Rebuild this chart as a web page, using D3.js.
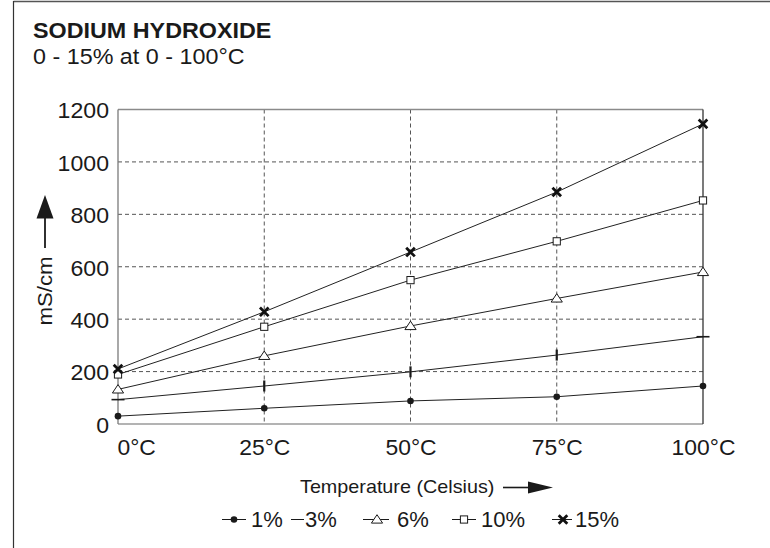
<!DOCTYPE html>
<html>
<head>
<meta charset="utf-8">
<script src="https://cdn.jsdelivr.net/npm/d3@7"></script>
<style>
  body { margin: 0; background: #fff; }
  svg { display: block; font-family: "Liberation Sans", Arial, Helvetica, sans-serif; }
</style>
</head>
<body>
<svg id="chart" width="770" height="548"></svg>
<script>
// Conductivity of sodium hydroxide solutions (mS/cm) vs temperature
const temps = [0, 25, 50, 75, 100];
const tempLabels = ["0°C", "25°C", "50°C", "75°C", "100°C"];
const yTicks = [0, 200, 400, 600, 800, 1000, 1200];
const seriesNames = ["1%", "3%", "6%", "10%", "15%"];
const naoh1 = [30, 60, 88, 104, 145];
const naoh3 = [93, 145, 199, 263, 333];
const naoh6 = [132, 260, 374, 479, 580];
const naoh10 = [189, 371, 549, 697, 853];
const naoh15 = [210, 428, 656, 885, 1145];
const markerTypes = ["dot", "bar", "triangle", "square", "cross"];

const series = [naoh1, naoh3, naoh6, naoh10, naoh15].map((vals, i) => ({
  name: seriesNames[i],
  marker: markerTypes[i],
  points: vals.map((v, j) => ({ t: temps[j], v }))
}));

const svg = d3.select("#chart");
const ink = "#1a1a1a";
const W = 770, H = 548;
const plot = { left: 118, right: 703, top: 109.5, bottom: 424 };

const x = d3.scaleLinear().domain([0, 100]).range([plot.left, plot.right]);
const y = d3.scaleLinear().domain([0, 1200]).range([plot.bottom, plot.top]);

// Text in this sheet is set slightly wide
function widen(sel, k) {
  sel.each(function () {
    const len = this.getComputedTextLength();
    d3.select(this).attr("textLength", len * k).attr("lengthAdjust", "spacingAndGlyphs");
  });
}

// Page frame
svg.append("line").attr("x1", 13.5).attr("x2", W).attr("y1", 1.5).attr("y2", 1.5)
  .attr("stroke", "#555").attr("stroke-width", 1.5);
svg.append("line").attr("x1", 13.5).attr("x2", 13.5).attr("y1", 1).attr("y2", H)
  .attr("stroke", "#333").attr("stroke-width", 1.2);

// Title block
const title = svg.append("text").attr("x", 33).attr("y", 38)
  .attr("font-size", 22).attr("font-weight", "bold").attr("fill", ink)
  .text("SODIUM HYDROXIDE");
widen(title, 1.06);
const subtitle = svg.append("text").attr("x", 33).attr("y", 64)
  .attr("font-size", 22).attr("fill", ink)
  .text("0 - 15% at 0 - 100°C");
widen(subtitle, 1.06);

// Grid
const grid = svg.append("g").attr("stroke", "#555").attr("stroke-width", 1)
  .attr("stroke-dasharray", "4,3").attr("fill", "none");
grid.selectAll("line.h").data(yTicks.filter(d => d > 0 && d < 1200)).join("line")
  .attr("class", "h")
  .attr("x1", plot.left).attr("x2", plot.right)
  .attr("y1", d => y(d)).attr("y2", d => y(d));
grid.selectAll("line.v").data(temps.filter(d => d > 0 && d < 100)).join("line")
  .attr("class", "v")
  .attr("x1", d => x(d)).attr("x2", d => x(d))
  .attr("y1", plot.top).attr("y2", plot.bottom);

// Plot frame
svg.append("line").attr("x1", plot.left).attr("x2", plot.right).attr("y1", plot.top).attr("y2", plot.top)
  .attr("stroke", "#8a8a8a").attr("stroke-width", 1.3);
svg.append("line").attr("x1", plot.left).attr("x2", plot.right).attr("y1", plot.bottom).attr("y2", plot.bottom)
  .attr("stroke", "#9a9a9a").attr("stroke-width", 1.6);
svg.append("line").attr("x1", plot.left).attr("x2", plot.left).attr("y1", plot.top).attr("y2", plot.bottom)
  .attr("stroke", "#7a7a7a").attr("stroke-width", 1.3);
svg.append("line").attr("x1", plot.right).attr("x2", plot.right).attr("y1", plot.top).attr("y2", plot.bottom)
  .attr("stroke", "#333").attr("stroke-width", 1.3);

// Axes (labels only)
const yAxis = svg.append("g").attr("transform", `translate(${plot.left},0)`)
  .call(d3.axisLeft(y).tickValues(yTicks).tickSize(0).tickPadding(9).tickFormat(d3.format("d")));
yAxis.select(".domain").remove();
yAxis.selectAll("text").attr("font-size", 22).attr("fill", ink)
  .attr("font-family", "Liberation Sans, Arial, sans-serif").attr("dy", "0.38em");
widen(yAxis.selectAll("text"), 1.05);

const xAxis = svg.append("g").attr("transform", `translate(0,${plot.bottom})`)
  .call(d3.axisBottom(x).tickValues(temps).tickSize(0).tickPadding(15).tickFormat((d, i) => tempLabels[i]));
xAxis.select(".domain").remove();
xAxis.selectAll("text").attr("font-size", 22).attr("fill", ink)
  .attr("font-family", "Liberation Sans, Arial, sans-serif");
xAxis.selectAll(".tick").filter(d => d === 0).select("text")
  .attr("text-anchor", "start").attr("x", -1);
widen(xAxis.selectAll("text"), 1.04);

// Axis titles with arrows
const yTitle = svg.append("text")
  .attr("transform", "translate(52,291) rotate(-90)")
  .attr("text-anchor", "middle").attr("font-size", 21).attr("fill", ink)
  .text("mS/cm");
widen(yTitle, 1.06);
svg.append("line").attr("x1", 45).attr("x2", 45).attr("y1", 248).attr("y2", 214)
  .attr("stroke", ink).attr("stroke-width", 1.8);
svg.append("path").attr("d", d3.line()([[45, 195], [53.5, 218.5], [36.5, 218.5]]) + "Z")
  .attr("fill", ink);

const xTitle = svg.append("text").attr("x", 300).attr("y", 493)
  .attr("font-size", 19).attr("fill", ink)
  .text("Temperature (Celsius)");
widen(xTitle, 1.04);
svg.append("line").attr("x1", 503).attr("x2", 530).attr("y1", 487.5).attr("y2", 487.5)
  .attr("stroke", ink).attr("stroke-width", 1.6);
svg.append("path").attr("d", d3.line()([[553, 487.5], [528, 481.5], [528, 493.5]]) + "Z")
  .attr("fill", ink);

// Marker glyphs
function drawMarker(g, type, cx, cy, opts = {}) {
  if (type === "dot") {
    g.append("circle").attr("cx", cx).attr("cy", cy).attr("r", 3.3).attr("fill", ink);
  } else if (type === "bar") {
    if (opts.flat) {
      g.append("line").attr("x1", cx - 6.5).attr("x2", cx + 6.5).attr("y1", cy).attr("y2", cy)
        .attr("stroke", ink).attr("stroke-width", 1.6);
    } else {
      g.append("line").attr("x1", cx).attr("x2", cx).attr("y1", cy - 5.5).attr("y2", cy + 5.5)
        .attr("stroke", ink).attr("stroke-width", 2.2);
    }
  } else if (type === "triangle") {
    g.append("path")
      .attr("d", d3.line()([[cx, cy - 4.8], [cx + 5.6, cy + 3.6], [cx - 5.6, cy + 3.6]]) + "Z")
      .attr("fill", "#fff").attr("stroke", ink).attr("stroke-width", 1);
  } else if (type === "square") {
    g.append("rect").attr("x", cx - 3.6).attr("y", cy - 3.6).attr("width", 7.2).attr("height", 7.2)
      .attr("fill", "#fff").attr("stroke", ink).attr("stroke-width", 1);
  } else if (type === "cross") {
    const s = 4.3;
    g.append("path")
      .attr("d", `M${cx - s},${cy - s}L${cx + s},${cy + s}M${cx + s},${cy - s}L${cx - s},${cy + s}`)
      .attr("stroke", "#111").attr("stroke-width", 2.8).attr("fill", "none");
  }
}

// Series lines and markers
const line = d3.line().x(d => x(d.t)).y(d => y(d.v));
const plotG = svg.append("g");
series.forEach(s => {
  plotG.append("path").attr("d", line(s.points))
    .attr("fill", "none").attr("stroke", "#222").attr("stroke-width", 1);
});
series.forEach(s => {
  const g = plotG.append("g");
  s.points.forEach((p, j) => {
    drawMarker(g, s.marker, x(p.t), y(p.v), { flat: j === 0 || j === s.points.length - 1 });
  });
});

// Legend: key line, marker and label for each series
const legendY = 519.5;
const legendSlots = [
  { x1: 222, x2: 246, mx: 234, tx: 251 },
  { x1: 291, x2: 304, mx: null, tx: 305 },
  { x1: 363, x2: 389, mx: 377, tx: 397 },
  { x1: 452, x2: 476, mx: 464, tx: 481 },
  { x1: 552, x2: 572, mx: 563, tx: 575 }
];
const legend = svg.append("g");
series.forEach((s, i) => {
  const slot = legendSlots[i];
  legend.append("line").attr("x1", slot.x1).attr("x2", slot.x2).attr("y1", legendY).attr("y2", legendY)
    .attr("stroke", ink).attr("stroke-width", 1);
  if (slot.mx !== null) drawMarker(legend, s.marker, slot.mx, legendY, {});
  const t = legend.append("text").attr("x", slot.tx).attr("y", legendY + 7)
    .attr("font-size", 22).attr("fill", ink).text(s.name);
  widen(t, 1.0);
});
</script>
</body>
</html>
